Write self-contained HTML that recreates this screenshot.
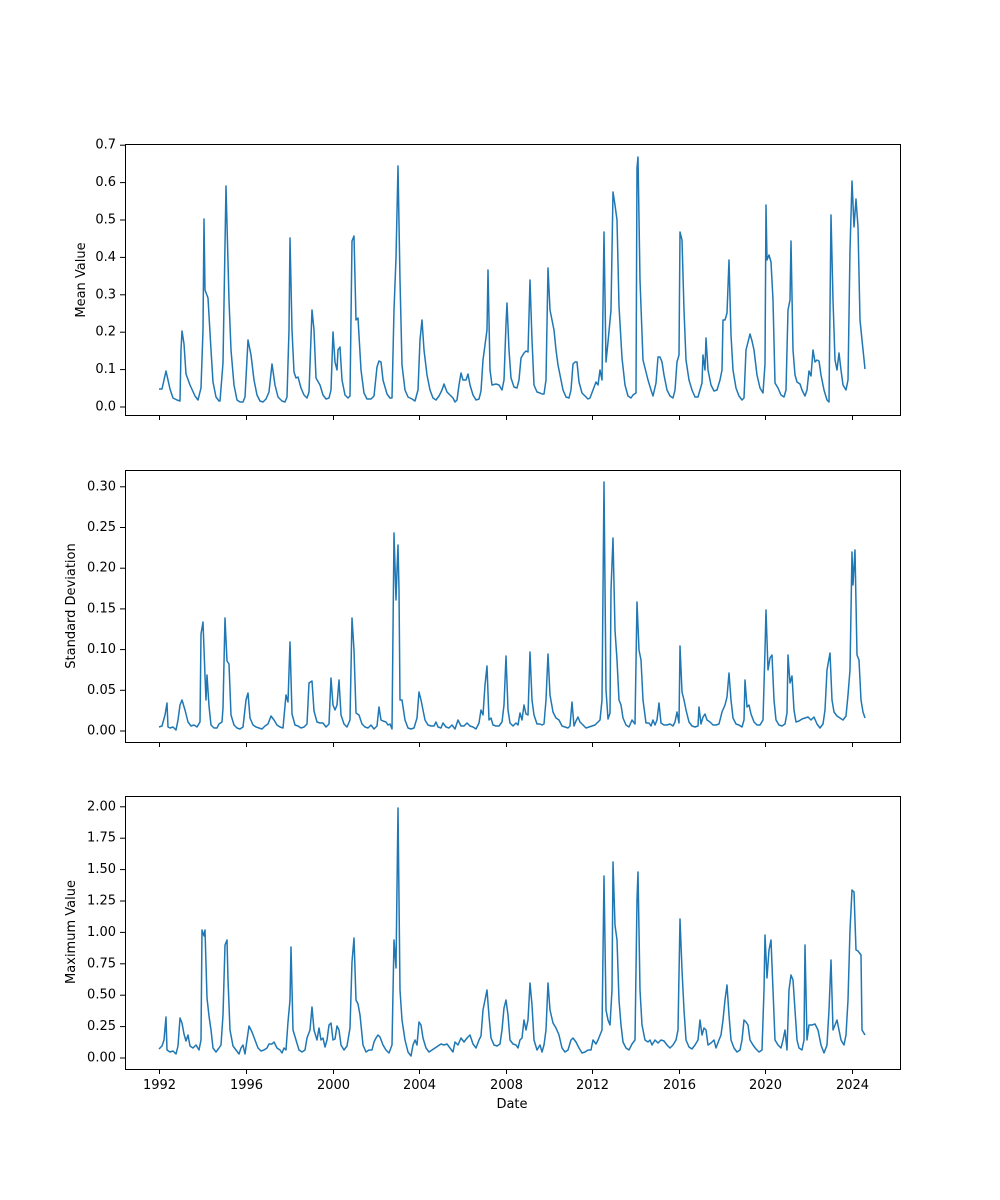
<!DOCTYPE html>
<html><head><meta charset="utf-8"><style>
html,body{margin:0;padding:0;background:#fff;}
svg{display:block;font-family:"DejaVu Sans","Liberation Sans",sans-serif;}
</style></head><body>
<svg width="1000" height="1200" viewBox="0 0 1000 1200" xmlns="http://www.w3.org/2000/svg">
<rect width="1000" height="1200" fill="#fff"/>
<g fill="none" stroke="#000" stroke-width="1">
<rect x="125.5" y="144.5" width="775" height="271"/>
<rect x="125.5" y="470.5" width="775" height="272"/>
<rect x="125.5" y="796.5" width="775" height="273"/>
</g>
<g stroke="#000" stroke-width="1">
<g id="xt">
<line x1="159.5" y1="415" x2="159.5" y2="420"/><line x1="246.5" y1="415" x2="246.5" y2="420"/><line x1="333.5" y1="415" x2="333.5" y2="420"/><line x1="419.5" y1="415" x2="419.5" y2="420"/><line x1="506.5" y1="415" x2="506.5" y2="420"/><line x1="592.5" y1="415" x2="592.5" y2="420"/><line x1="679.5" y1="415" x2="679.5" y2="420"/><line x1="765.5" y1="415" x2="765.5" y2="420"/><line x1="852.5" y1="415" x2="852.5" y2="420"/>
</g>
<use href="#xt" y="327"/>
<use href="#xt" y="654"/>
<line x1="120" y1="407" x2="125" y2="407"/><line x1="120" y1="369.6" x2="125" y2="369.6"/><line x1="120" y1="332.2" x2="125" y2="332.2"/><line x1="120" y1="294.8" x2="125" y2="294.8"/><line x1="120" y1="257.4" x2="125" y2="257.4"/><line x1="120" y1="220" x2="125" y2="220"/><line x1="120" y1="182.6" x2="125" y2="182.6"/><line x1="120" y1="145.2" x2="125" y2="145.2"/>
<line x1="120" y1="731" x2="125" y2="731"/><line x1="120" y1="690.3" x2="125" y2="690.3"/><line x1="120" y1="649.6" x2="125" y2="649.6"/><line x1="120" y1="608.9" x2="125" y2="608.9"/><line x1="120" y1="568.2" x2="125" y2="568.2"/><line x1="120" y1="527.5" x2="125" y2="527.5"/><line x1="120" y1="486.8" x2="125" y2="486.8"/>
<line x1="120" y1="1058" x2="125" y2="1058"/><line x1="120" y1="1026.6" x2="125" y2="1026.6"/><line x1="120" y1="995.2" x2="125" y2="995.2"/><line x1="120" y1="963.8" x2="125" y2="963.8"/><line x1="120" y1="932.4" x2="125" y2="932.4"/><line x1="120" y1="901" x2="125" y2="901"/><line x1="120" y1="869.6" x2="125" y2="869.6"/><line x1="120" y1="838.2" x2="125" y2="838.2"/><line x1="120" y1="806.8" x2="125" y2="806.8"/>
</g>
<g font-size="13" fill="#000" text-anchor="end" dominant-baseline="central">
<text x="116" y="407">0.0</text><text x="116" y="369.6">0.1</text><text x="116" y="332.2">0.2</text><text x="116" y="294.8">0.3</text><text x="116" y="257.4">0.4</text><text x="116" y="220">0.5</text><text x="116" y="182.6">0.6</text><text x="116" y="145.2">0.7</text>
<text x="116" y="731">0.00</text><text x="116" y="690.3">0.05</text><text x="116" y="649.6">0.10</text><text x="116" y="608.9">0.15</text><text x="116" y="568.2">0.20</text><text x="116" y="527.5">0.25</text><text x="116" y="486.8">0.30</text>
<text x="116" y="1058">0.00</text><text x="116" y="1026.6">0.25</text><text x="116" y="995.2">0.50</text><text x="116" y="963.8">0.75</text><text x="116" y="932.4">1.00</text><text x="116" y="901">1.25</text><text x="116" y="869.6">1.50</text><text x="116" y="838.2">1.75</text><text x="116" y="806.8">2.00</text>
</g>
<g font-size="13" fill="#000" text-anchor="middle">
<text x="159.5" y="1089">1992</text><text x="246.5" y="1089">1996</text><text x="333.5" y="1089">2000</text><text x="419.5" y="1089">2004</text><text x="506.5" y="1089">2008</text><text x="592.5" y="1089">2012</text><text x="679.5" y="1089">2016</text><text x="765.5" y="1089">2020</text><text x="852.5" y="1089">2024</text>
<text x="512" y="1108">Date</text>
<text transform="translate(85,280) rotate(-90)">Mean Value</text>
<text transform="translate(75,606) rotate(-90)">Standard Deviation</text>
<text transform="translate(75,932) rotate(-90)">Maximum Value</text>
</g>
<g fill="none" stroke="#1f77b4" stroke-width="1.5" stroke-linejoin="round">
<polyline points="159,389 162,389 166,371 170,389 173,398 177,400 180,401 181,350 182,331 184,344 186,374 190,385 195,396 198,400 201,388 203,330 204,219 205,290 208,298 211,350 213,382 216,397 219,401 220,401 223,363 226,186 229,300 231,350 234,385 237,400 240,402 243,402 245,397 248,340 251,355 254,380 257,395 260,401 263,402 266,399 269,392 272,364 275,385 278,397 282,401 285,402 287,397 289,330 290,238 292,330 294,372 296,378 298,377 301,388 304,395 307,398 309,392 312,310 314,330 316,378 320,385 323,395 326,399 329,398 331,390 333,332 335,362 337,370 338,350 340,347 342,380 345,395 348,398 350,396 352,241 354,236 356,320 358,318 361,370 364,393 367,399 371,399 374,396 377,367 379,361 381,362 383,380 387,394 390,398 392,398 394,310 396,258 398,166 400,280 402,365 405,390 408,397 412,399 415,401 418,390 420,340 422,320 424,350 427,375 430,390 433,398 436,400 439,396 442,390 444,384 447,392 450,395 453,398 455,402 457,400 459,385 461,373 463,380 466,380 468,374 470,385 473,395 476,400 479,399 481,391 483,360 485,345 487,330 488,270 490,370 492,385 496,384 499,385 502,390 504,380 506,324 507,303 509,350 511,378 514,387 517,388 519,380 521,358 524,353 526,351 528,352 530,280 532,340 534,385 537,392 540,393 542,394 544,394 546,380 548,268 550,310 552,320 554,330 556,350 558,365 561,380 563,390 566,397 569,398 571,390 573,364 575,362 577,362 579,382 582,393 585,396 588,399 590,398 593,390 596,382 598,385 600,370 602,380 604,232 606,362 608,342 611,310 613,192 615,205 617,220 619,306 622,358 625,385 628,396 631,398 633,395 636,393 637,168 638,157 640,280 643,360 646,372 648,380 651,390 653,396 656,383 658,357 660,357 662,362 664,375 667,390 670,396 673,398 675,390 677,362 679,355 680,232 682,240 684,310 686,360 689,380 692,390 695,397 698,397 700,390 702,383 703,355 705,370 706,338 708,370 711,385 714,391 717,390 720,380 722,370 723,320 725,320 727,313 729,260 731,335 733,370 736,388 739,396 742,400 744,398 746,350 748,342 750,334 752,341 754,350 757,375 760,388 763,393 765,364 766,205 767,260 769,255 771,262 773,300 775,383 778,388 781,395 784,397 786,390 788,310 790,300 791,241 793,350 795,375 797,382 800,384 802,390 805,396 807,390 809,371 811,376 813,350 815,362 817,360 819,361 821,375 824,390 827,400 829,402 831,215 833,300 835,360 837,370 839,353 841,370 843,385 846,390 848,380 850,250 852,181 854,227 856,199 858,227 860,320 862,340 865,369"/>
<polyline points="159,727 162,726 165,715 167,703 168,727 170,728 173,727 176,730 178,720 180,705 182,700 185,710 188,722 191,726 194,725 197,727 200,722 201,634 203,622 205,676 206,700 207,675 209,706 211,725 214,728 217,728 219,724 222,722 223,708 225,618 227,661 229,664 231,715 234,725 237,728 240,729 243,727 246,700 248,693 250,718 253,725 256,727 259,728 262,729 265,726 268,724 271,716 274,720 277,725 280,727 283,728 286,695 288,702 290,642 292,714 295,725 298,726 301,728 304,727 307,724 309,683 312,681 314,711 317,722 320,723 323,723 326,727 329,724 331,678 333,705 335,710 337,705 339,680 341,715 344,724 347,727 350,720 352,618 354,650 356,713 359,715 362,724 365,727 368,728 371,725 374,729 377,726 379,707 381,720 383,721 386,722 388,725 390,724 392,729 394,533 396,600 397,570 398,545 399,590 400,700 402,700 405,720 408,728 411,729 414,728 417,718 419,692 421,700 423,710 425,720 428,725 431,726 434,726 436,722 438,727 441,728 443,723 446,727 449,728 452,725 455,729 458,720 461,726 464,726 467,723 470,726 473,727 476,729 479,723 481,710 483,715 485,685 487,666 489,720 491,718 493,725 496,726 499,726 502,722 504,705 506,656 508,710 510,723 513,726 516,723 518,725 520,713 522,720 524,705 526,714 528,715 530,652 532,700 534,715 537,724 540,724 542,725 544,724 546,700 548,654 550,695 553,712 556,718 559,720 562,726 565,727 568,728 570,726 572,702 574,726 576,721 578,717 580,722 583,725 586,728 589,727 592,726 595,725 598,722 600,720 602,700 604,482 606,690 608,719 610,713 611,590 613,538 615,630 617,660 619,700 621,705 623,718 626,725 629,727 632,720 635,724 637,602 639,650 641,660 643,700 646,723 649,723 651,726 653,720 655,725 657,720 659,703 661,723 664,725 667,725 670,724 673,726 675,722 677,712 679,723 680,646 682,692 684,700 686,710 689,722 692,726 695,727 698,726 699,707 701,724 703,717 705,714 707,720 710,722 713,725 716,725 719,724 722,712 725,705 727,697 729,673 731,700 733,718 736,724 739,725 742,727 744,720 745,680 747,707 749,705 751,714 754,722 757,725 760,725 763,720 765,650 766,610 768,670 770,658 772,655 774,700 776,720 779,725 782,726 785,724 787,713 788,655 790,683 792,676 794,710 796,722 799,721 802,719 805,718 808,717 811,720 814,717 817,724 820,728 823,724 825,710 827,670 830,653 832,700 834,712 837,716 840,718 843,720 846,716 848,695 850,670 852,552 853,585 855,550 857,655 859,660 861,700 863,712 865,718"/>
<polyline points="159,1049 162,1046 164,1040 166,1017 167,1050 170,1052 173,1051 176,1054 178,1046 180,1018 182,1023 184,1034 186,1041 188,1035 190,1046 193,1048 196,1045 199,1050 201,1040 202,930 204,936 205,930 207,998 209,1016 211,1030 213,1048 216,1052 219,1048 221,1045 223,1015 225,945 227,940 228,980 230,1030 233,1046 236,1050 239,1054 241,1048 243,1045 245,1054 247,1040 249,1026 252,1032 255,1040 258,1048 261,1051 264,1050 267,1048 269,1044 272,1044 274,1042 277,1048 280,1050 282,1053 284,1048 286,1050 288,1022 290,1000 291,947 293,1030 296,1040 299,1050 302,1052 305,1050 307,1038 310,1030 312,1007 314,1030 317,1040 319,1028 321,1040 323,1038 325,1047 327,1040 329,1025 331,1023 333,1040 335,1039 337,1026 339,1030 341,1045 344,1050 347,1046 350,1028 352,962 354,938 356,1000 358,1004 360,1015 363,1045 366,1052 369,1050 372,1050 374,1042 376,1038 378,1035 380,1037 383,1045 386,1050 389,1053 392,1045 394,940 396,968 398,808 400,990 402,1020 405,1040 408,1052 411,1056 413,1045 415,1040 417,1045 419,1022 421,1025 423,1038 426,1048 429,1052 432,1050 435,1048 438,1046 441,1044 444,1045 447,1044 450,1048 453,1052 455,1042 458,1045 461,1038 464,1042 467,1038 470,1035 473,1044 476,1048 479,1040 481,1036 483,1010 485,1000 487,990 489,1016 491,1038 494,1045 497,1046 500,1044 502,1030 504,1008 506,1000 508,1015 510,1040 513,1044 516,1045 518,1048 520,1040 522,1038 524,1020 526,1030 528,1020 530,983 532,1005 534,1040 537,1050 540,1045 542,1052 544,1045 546,1030 548,983 550,1010 553,1023 556,1028 559,1035 562,1048 565,1052 568,1050 571,1040 573,1038 576,1042 579,1048 582,1053 585,1052 588,1050 591,1050 593,1040 596,1044 598,1040 600,1035 602,1030 604,876 606,1010 608,1020 610,1025 612,990 613,862 615,925 617,940 619,1000 621,1025 623,1042 626,1048 629,1050 632,1044 635,1040 637,900 638,872 640,990 642,1025 645,1040 648,1042 650,1040 652,1045 655,1040 658,1043 661,1040 664,1041 667,1045 670,1048 673,1045 676,1040 678,1030 680,919 682,970 684,1010 686,1040 689,1047 692,1049 695,1045 698,1040 700,1020 702,1035 704,1028 706,1030 708,1045 711,1043 714,1040 716,1048 719,1040 721,1035 723,1020 725,1000 727,985 729,1015 731,1040 734,1048 737,1052 740,1050 742,1040 744,1020 746,1022 748,1025 750,1040 753,1045 756,1049 759,1052 762,1050 764,990 765,935 767,978 769,950 771,940 773,990 775,1040 778,1045 781,1048 783,1040 785,1030 787,1050 789,990 791,975 793,980 795,1010 797,1040 799,1048 802,1050 804,1040 805,945 807,1040 809,1025 812,1025 815,1024 818,1030 821,1045 824,1053 827,1045 829,1010 831,960 833,1030 835,1025 837,1020 839,1030 841,1040 844,1045 846,1035 848,1000 850,930 852,890 854,892 856,950 858,951 861,955 862,1030 865,1035"/>
</g>
</svg>
</body></html>
